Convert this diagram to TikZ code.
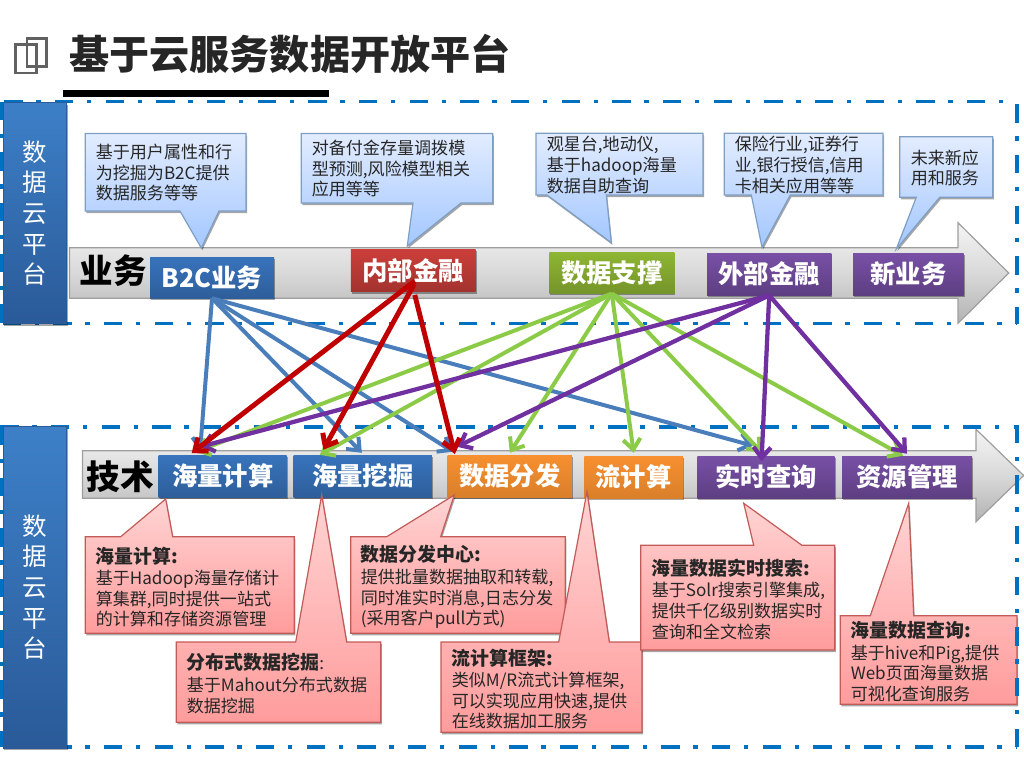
\documentclass[tikz,border=0pt]{standalone}
\usepackage{fontspec}
\setmainfont{Noto Sans CJK SC}
\usetikzlibrary{shadows,arrows.meta,calc}
\definecolor{framec}{HTML}{0070C0}
\definecolor{ink}{HTML}{262626}
\tikzset{
  x=0.75pt,y=-0.75pt,
  softshadow/.style={drop shadow={shadow xshift=0.8pt,shadow yshift=-1.6pt,opacity=.35,fill=black}},
  tag/.style={draw=none,inner sep=0pt,text=white,font=\fontsize{19}{22}\selectfont\bfseries,softshadow},
  bar/.style={inner sep=0pt,minimum width=47.5pt,top color=blue1,bottom color=blue2,draw=blue2,line width=.5pt,
     text=white,align=center,font=\fontsize{18.4}{23}\selectfont,softshadow},
  greyarrow/.style={draw=black!38,line width=.9pt,top color=white!96!black,bottom color=black!30,middle color=black!15},
  bluecall/.style={draw=bluedge,line width=.9pt,top color=bluelight,bottom color=bluedark,softshadow},
  pinkcall/.style={draw=pinkedge,line width=.9pt,top color=pinklight,bottom color=pinkdark,softshadow},
  calltext/.style={inner sep=0pt,anchor=west,align=left,text=ink,font=\fontsize{12.8}{15.4}\selectfont},
  dashline/.style={draw=framec,line width=2.8pt,dash pattern=on 13.8pt off 10.2pt on 3.3pt off 10.7pt},
  link/.style={line width=#1,-{Straight Barb[length=8pt,width=13pt]}},
  linkb/.style={link=3pt,draw=blue3},
  linkg/.style={link=3pt,draw=green3},
  linkp/.style={link=3.2pt,draw=purple3},
  linkr/.style={link=3.7pt,draw=red3},
}
\definecolor{blue1}{HTML}{3D80C8}
\definecolor{blue2}{HTML}{2A5A98}
\definecolor{blue3}{HTML}{4A7EBB}
\definecolor{green3}{HTML}{8CCB48}
\definecolor{purple3}{HTML}{7030A0}
\definecolor{red3}{HTML}{C00000}
\definecolor{bluelight}{HTML}{E2ECFF}
\definecolor{bluedark}{HTML}{A3C7FF}
\definecolor{bluedge}{HTML}{7E9FC4}
\definecolor{pinklight}{HTML}{FFD4D4}
\definecolor{pinkdark}{HTML}{FF9C9C}
\definecolor{pinkedge}{HTML}{C25B58}
\definecolor{tagb}{HTML}{3873BC}
\definecolor{tagr}{HTML}{CB3F3A}
\definecolor{tagg}{HTML}{8EB533}
\definecolor{tagp}{HTML}{7850A6}
\definecolor{tago}{HTML}{F79030}
\newcommand{\boldline}[1]{{\fontsize{14.2}{16}\selectfont\bfseries #1}}
\begin{document}
\begin{tikzpicture}
\useasboundingbox (0,0) rectangle (1024,768);
% title
\node[inner sep=0pt,anchor=west,text=ink,font=\fontsize{30.1}{34}\selectfont\bfseries] (title) at (69,54) {基于云服务数据开放平台};
\draw[draw=black!62,line width=2.1pt] (15.5,44.5) rectangle (36.5,73);
\draw[draw=black!62,line width=2.1pt] (27,38.5) rectangle (46.5,66.5);
\fill[black] (63.3,90.3) rectangle (329.3,96.7);
% grey arrows
\path[greyarrow] (69.5,247.7) -- (958,247.7) -- (958,222.7) -- (1008.7,273) -- (958,323.3) -- (958,298.3) -- (69.5,298.3) -- cycle;
\path[greyarrow] (82.5,450.7) -- (976,450.7) -- (976,429.3) -- (1023.7,475.5) -- (976,521.7) -- (976,498.3) -- (82.5,498.3) -- cycle;
\node[inner sep=0pt,font=\fontsize{25.2}{28}\selectfont\bfseries] (lbiz) at (113.5,271) {业务};
\node[inner sep=0pt,font=\fontsize{25.2}{28}\selectfont\bfseries] (ltech) at (120,477) {技术};
% business tags
\node[tag,top color=tagb,bottom color=tagb!82!black,minimum width=93pt,minimum height=30.75pt] (b2c) at (212,277.5) {B2C业务};
\node[tag,top color=tagr,bottom color=tagr!80!black,minimum width=93.5pt,minimum height=31.8pt] (nbjr) at (413.3,270.5) {内部金融};
\node[tag,top color=tagg,bottom color=tagg!82!black,minimum width=93.75pt,minimum height=30.5pt] (sjzc) at (611.8,273) {数据支撑};
\node[tag,top color=tagp,bottom color=tagp!78!black,minimum width=93.2pt,minimum height=31.3pt] (wbjr) at (769.2,274.2) {外部金融};
\node[tag,top color=tagp,bottom color=tagp!78!black,minimum width=83pt,minimum height=31.3pt] (xyw) at (908.4,274.2) {新业务};
% technology tags
\node[tag,top color=tagb,bottom color=tagb!82!black,minimum width=96pt,minimum height=31.7pt] (hljs) at (222.7,476.2) {海量计算};
\node[tag,top color=tagb,bottom color=tagb!82!black,minimum width=103.7pt,minimum height=31.7pt] (hlwj) at (362.85,476.2) {海量挖掘};
\node[tag,top color=tago,bottom color=tago!88!black,minimum width=93.2pt,minimum height=31.5pt] (sjff) at (509.85,476) {数据分发};
\node[tag,top color=tago,bottom color=tago!88!black,minimum width=74pt,minimum height=31.7pt] (ljs) at (633.65,477.2) {流计算};
\node[tag,top color=tagp,bottom color=tagp!78!black,minimum width=103pt,minimum height=31.5pt] (sscx) at (766,477) {实时查询};
\node[tag,top color=tagp,bottom color=tagp!78!black,minimum width=97.5pt,minimum height=31.5pt] (zygl) at (907,477) {资源管理};
% blue callouts
\path[bluecall] (85.3,133.5) -- (246,133.5) -- (246,211) -- (219,211) -- (201.3,248) -- (180,211) -- (85.3,211) -- cycle;
\path[bluecall] (301.3,133.5) -- (492.7,133.5) -- (492.7,203) -- (461,203) -- (407.3,246) -- (413,203) -- (301.3,203) -- cycle;
\path[bluecall] (536,133.3) -- (703,133.3) -- (703,195) -- (606.3,195) -- (611.3,242.7) -- (547,195) -- (536,195) -- cycle;
\path[bluecall] (724.3,133.3) -- (883,133.3) -- (883,195) -- (790.3,195) -- (762,247.3) -- (751.3,195) -- (724.3,195) -- cycle;
\path[bluecall] (899.7,136.7) -- (992.7,136.7) -- (992.7,197.3) -- (939.7,197.3) -- (896.3,249) -- (916.3,197.3) -- (899.7,197.3) -- cycle;
\node[calltext] (bt1) at (95.5,172.5) {基于用户属性和行\\为挖掘为B2C提供\\数据服务等等};
\node[calltext] (bt2) at (311.5,168.5) {对备付金存量调拨模\\型预测,风险模型相关\\应用等等};
\node[calltext] (bt3) at (546.5,165) {观星台,地动仪,\\基于hadoop海量\\数据自助查询};
\node[calltext] (bt4) at (734.5,165) {保险行业,证券行\\业,银行授信,信用\\卡相关应用等等};
\node[calltext] (bt5) at (910.5,168) {未来新应\\用和服务};
% pink callouts
\path[pinkcall] (85.3,536.7) -- (120.7,536.7) -- (165.7,499) -- (172.7,536.7) -- (294.3,536.7) -- (294.3,633.3) -- (85.3,633.3) -- cycle;
\path[pinkcall] (176.3,642) -- (295.7,642) -- (321.7,495) -- (346.7,642) -- (380.7,642) -- (380.7,722.3) -- (176.3,722.3) -- cycle;
\path[pinkcall] (350.7,536.7) -- (386.7,536.7) -- (454.3,495) -- (440.7,536.7) -- (565.3,536.7) -- (565.3,633.3) -- (350.7,633.3) -- cycle;
\path[pinkcall] (441,642) -- (558.7,642) -- (587,491.7) -- (609.3,642) -- (642,642) -- (642,732.3) -- (441,732.3) -- cycle;
\path[pinkcall] (640.7,545.3) -- (753.7,545.3) -- (743.7,503.3) -- (802,545.3) -- (834.7,545.3) -- (834.7,650) -- (640.7,650) -- cycle;
\path[pinkcall] (840.3,615.7) -- (870.3,615.7) -- (908.7,503.3) -- (913.7,615.7) -- (1017,615.7) -- (1017,704.3) -- (840.3,704.3) -- cycle;
\node[calltext] (pt1) at (95.5,587) {\boldline{海量计算:}\\[1pt]基于Hadoop海量存储计\\算集群,同时提供一站式\\的计算和存储资源管理};
\node[calltext] (pt2) at (186.5,683.5) {\boldline{分布式数据挖掘}:\\[1pt]基于Mahout分布式数据\\数据挖掘};
\node[calltext] (pt3) at (360.5,587) {\boldline{数据分发中心:}\\[1pt]提供批量数据抽取和转载,\\同时准实时消息,日志分发\\(采用客户pull方式)};
\node[calltext] (pt4) at (451.5,689) {\boldline{流计算框架:}\\[1pt]类似M/R流式计算框架,\\可以实现应用快速,提供\\在线数据加工服务};
\node[calltext] (pt5) at (651.5,599) {\boldline{海量数据实时搜索:}\\[1pt]基于Solr搜索引擎集成,\\提供千亿级别数据实时\\查询和全文检索};
\node[calltext] (pt6) at (850.5,661.5) {\boldline{海量数据查询:}\\[1pt]基于hive和Pig,提供\\Web页面海量数据\\可视化查询服务};
% dashed frames
\path[dashline] (4.3,101.5) -- (1017,101.5);
\path[dashline] (1017,104.3) -- (1017,323.5);
\path[dashline] (2.7,323.5) -- (1017,323.5);
\path[dashline] (1.5,101.5) -- (1.5,323.5);
\path[dashline] (0.4,427) -- (1017,427);
\path[dashline] (1017,424.7) -- (1017,746.7);
\path[dashline] (2.7,746.7) -- (1017,746.7);
\path[dashline] (1.5,427) -- (1.5,746.7);
% side bars
\node[bar,minimum height=165.6pt] (bar1) at (35,213) {数\\据\\云\\平\\台};
\node[bar,minimum height=241pt] (bar2) at (35,587.3) {数\\据\\云\\平\\台};
% connectors
\draw[linkb] (b2c.south) -- ($(hljs.north)+(-22.7,-3)$);
\draw[linkb] (b2c.south) -- ($(hlwj.north)+(-1,-2)$);
\draw[linkb] (b2c.south) -- ($(sjff.north)+(-57,-3)$);
\draw[linkb] (b2c.south) -- ($(sscx.north)+(-13,-10)$);
\draw[linkg] (sjzc.south) -- ($(hljs.north)+(-27,-3)$);
\draw[linkg] (sjzc.south) -- ($(hlwj.north)+(-43,0)$);
\draw[linkg] (sjzc.south) -- ($(sjff.north)+(0,-2)$);
\draw[linkg] (sjzc.south) -- ($(ljs.north)+(0,-3)$);
\draw[linkg] (sjzc.south) -- ($(sscx.north)+(-4,-3)$);
\draw[linkg] (sjzc.south) -- ($(zygl.north)+(-4,0)$);
\draw[linkp] (wbjr.south) -- ($(hljs.north)+(-22.7,-8)$);
\draw[linkp] (wbjr.south) -- ($(sjff.north)+(-53,-8)$);
\draw[linkp] (wbjr.south) -- ($(sscx.north)+(-4.5,5.5)$);
\draw[linkp] (wbjr.south) -- ($(zygl.north)+(0,-2)$);
\draw[linkr] ($(nbjr.south)+(1.5,-11)$) -- ($(hljs.north)+(-31,-1.7)$);
\draw[linkr] ($(nbjr.south)+(1,-8)$) -- ($(hlwj.north)+(-39.5,-5)$);
\draw[linkr] ($(nbjr.south)+(1.5,3)$) -- ($(sjff.north)+(-55,-.7)$);
\end{tikzpicture}
\end{document}
